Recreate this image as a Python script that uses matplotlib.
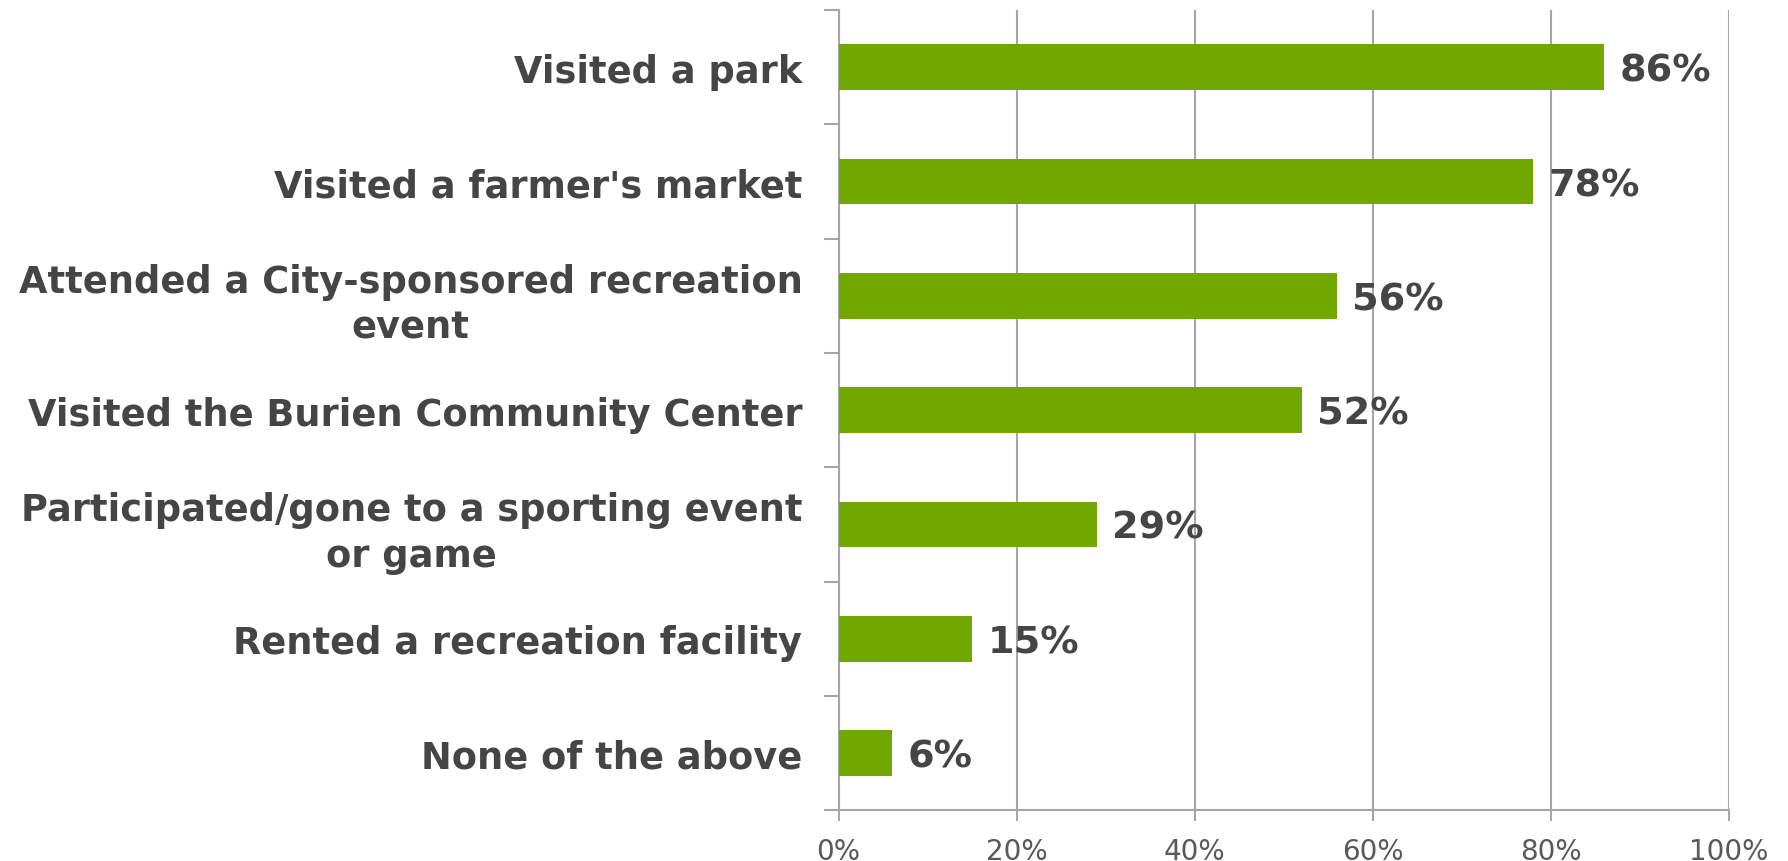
from matplotlib import pyplot as plt
import numpy as np

categories = ["Visited a park",
              "Visited a farmer's market",
              "Attended a City-sponsored recreation\nevent",
              "Visited the Burien Community Center",
              "Participated/gone to a sporting event\nor game",
              "Rented a recreation facility",
              "None of the above"]
values = [86, 78, 56, 52, 29, 15, 6]
xticks = [0, 20, 40, 60, 80, 100]

bar_color = '#71A800'
text_color = '#454545'
grid_color = '#A6A6A6'

fig = plt.figure(figsize=(17.88, 8.62), dpi=100)
ax = fig.add_axes([0.469, 0.059, 0.498, 0.928])

pos = np.arange(len(categories))
ax.barh(pos, values, height=0.4, color=bar_color, zorder=3)

for p, v in zip(pos, values):
    ax.text(v + 1.7, p + 0.03, str(v) + '%', va='center', ha='left',
            fontsize=27.5, fontweight='bold', color=text_color)

ax.set_xlim(0, 100)
ax.set_ylim(len(categories) - 0.5, -0.5)

ax.set_xticks(xticks)
ax.set_xticklabels([str(t) + '%' for t in xticks], fontsize=20, color='#595959')
ax.xaxis.grid(True, color=grid_color, linewidth=1.5, zorder=0)
ax.tick_params(axis='x', direction='out', length=8, width=1.5, color=grid_color, pad=11)

# category ticks between bars, labels in the middle
ax.set_yticks(np.arange(-0.5, len(categories), 1.0))
ax.set_yticklabels([])
ax.set_yticks(pos, minor=True)
ax.set_yticklabels(categories, minor=True, fontsize=26.5, fontweight='bold',
                   color=text_color, multialignment='center', linespacing=1.3)
ax.tick_params(axis='y', which='major', direction='out', length=11, width=1.5, color=grid_color)
ax.tick_params(axis='y', which='minor', length=0, pad=26)

for s in ['top', 'right']:
    ax.spines[s].set_visible(False)
for s in ['left', 'bottom']:
    ax.spines[s].set_color(grid_color)
    ax.spines[s].set_linewidth(1.5)

plt.savefig('out.png', dpi=100)
